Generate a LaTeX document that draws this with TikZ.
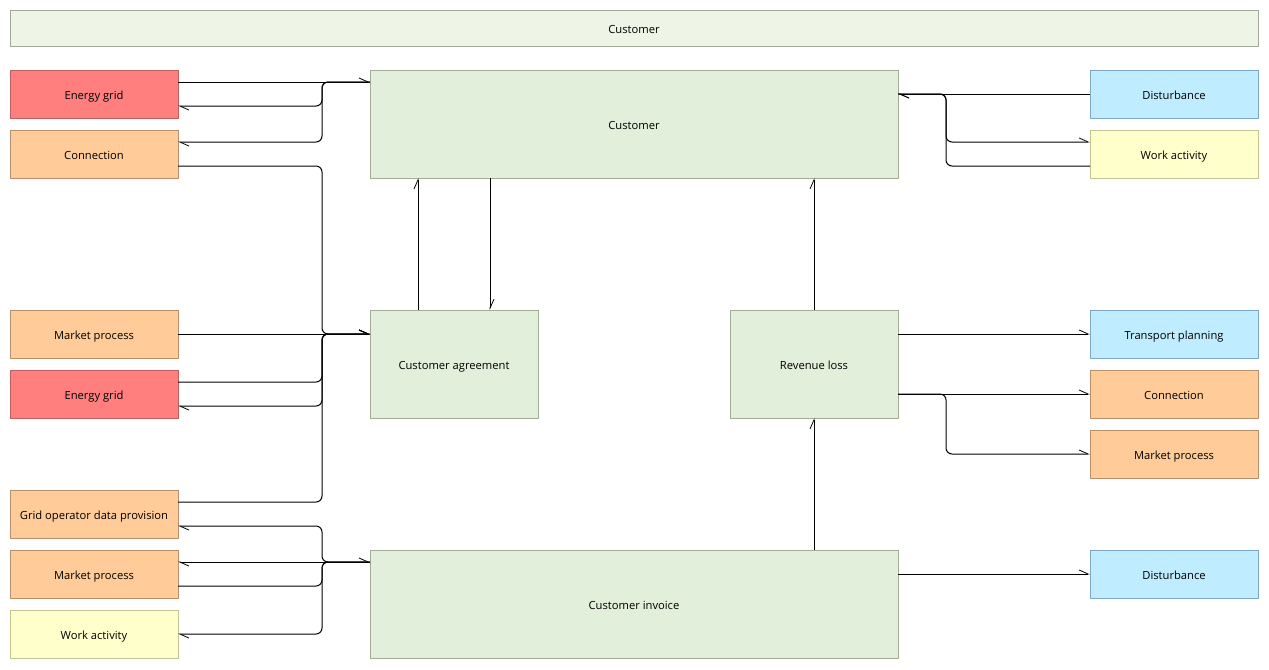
\documentclass[tikz,border=0pt]{standalone}
\usepackage{fontspec}
\setmainfont{Open Sans}
\usetikzlibrary{arrows.meta}

\definecolor{topfill}{HTML}{EEF5E6}
\definecolor{topline}{HTML}{A0A898}
\definecolor{procfill}{HTML}{E2EFDA}
\definecolor{procline}{HTML}{A2AE96}
\definecolor{redfill}{HTML}{FF7F7F}
\definecolor{redline}{HTML}{C0605E}
\definecolor{orgfill}{HTML}{FFCC99}
\definecolor{orgline}{HTML}{B8906C}
\definecolor{bluefill}{HTML}{BFEDFF}
\definecolor{blueline}{HTML}{7FA8C6}
\definecolor{yelfill}{HTML}{FFFFCC}
\definecolor{yelline}{HTML}{C4C490}

\tikzset{
  box/.style={draw, line width=0.75pt, inner sep=0pt, outer sep=0pt,
    minimum width=126pt, minimum height=36pt, text height=8.5pt, text depth=0pt,
    font=\fontsize{8.4}{10}\selectfont},
  proc/.style={box, fill=procfill, draw=procline, minimum height=81pt},
  wide/.style={minimum width=396pt},
  redbox/.style={box, fill=redfill, draw=redline},
  orgbox/.style={box, fill=orgfill, draw=orgline},
  bluebox/.style={box, fill=bluefill, draw=blueline},
  yelbox/.style={box, fill=yelfill, draw=yelline},
  conn/.style={line width=0.75pt, rounded corners=4.5pt,
    -{Straight Barb[harpoon, length=6.75pt, width=6pt, line width=0.6pt]}},
}

\begin{document}
\begin{tikzpicture}[x=0.75pt, y=-0.75pt]
  \useasboundingbox (0,0) rectangle (1269,669);

  \node[box, fill=topfill, draw=topline, minimum width=936pt, minimum height=27pt] (head) at (634,28) {Customer};

  % left column
  \node[redbox] (eg1) at (94,94) {Energy grid};
  \node[orgbox] (con1) at (94,154) {Connection};
  \node[orgbox] (mp1) at (94,334) {Market process};
  \node[redbox] (eg2) at (94,394) {Energy grid};
  \node[orgbox] (godp) at (94,514) {Grid operator data provision};
  \node[orgbox] (mp2) at (94,574) {Market process};
  \node[yelbox] (wa1) at (94,634) {Work activity};

  % middle
  \node[proc, wide] (cust) at (634,124) {Customer};
  \node[proc] (agree) at (454,364) {Customer agreement};
  \node[proc] (loss) at (814,364) {Revenue loss};
  \node[proc, wide] (inv) at (634,604) {Customer invoice};

  % right column
  \node[bluebox] (dist1) at (1174,94) {Disturbance};
  \node[yelbox] (wa2) at (1174,154) {Work activity};
  \node[bluebox] (tp) at (1174,334) {Transport planning};
  \node[orgbox] (con2) at (1174,394) {Connection};
  \node[orgbox] (mp3) at (1174,454) {Market process};
  \node[bluebox] (dist2) at (1174,574) {Disturbance};

  \coordinate (lbus) at (322,0);
  \coordinate (rbus) at (946,0);

  % top left group
  \draw[conn] ([yshift=9pt]eg1.east) -- ([yshift=31.5pt]cust.west);
  \draw[conn] ([yshift=31.5pt]cust.west) -- ([yshift=31.5pt]lbus |- cust.west)
    -- ([yshift=-9pt]lbus |- eg1.east) -- ([yshift=-9pt]eg1.east);
  \draw[conn] ([yshift=31.5pt]cust.west) -- ([yshift=31.5pt]lbus |- cust.west)
    -- ([yshift=9pt]lbus |- con1.east) -- ([yshift=9pt]con1.east);

  % customer agreement group
  \draw[conn] (mp1.east) -- ([yshift=22.5pt]agree.west);
  \draw[conn] ([yshift=-9pt]con1.east) -- ([yshift=-9pt]lbus |- con1.east)
    -- ([yshift=22.5pt]lbus |- agree.west) -- ([yshift=22.5pt]agree.west);
  \draw[conn] ([yshift=9pt]eg2.east) -- ([yshift=9pt]lbus |- eg2.east)
    -- ([yshift=22.5pt]lbus |- agree.west) -- ([yshift=22.5pt]agree.west);
  \draw[conn] ([yshift=22.5pt]agree.west) -- ([yshift=22.5pt]lbus |- agree.west)
    -- ([yshift=-9pt]lbus |- eg2.east) -- ([yshift=-9pt]eg2.east);
  \draw[conn] ([yshift=9pt]godp.east) -- ([yshift=9pt]lbus |- godp.east)
    -- ([yshift=22.5pt]lbus |- agree.west) -- ([yshift=22.5pt]agree.west);

  % customer invoice group
  \draw[conn] ([yshift=31.5pt]inv.west) -- ([yshift=31.5pt]lbus |- inv.west)
    -- ([yshift=-9pt]lbus |- godp.east) -- ([yshift=-9pt]godp.east);
  \draw[conn] ([yshift=31.5pt]inv.west) -- ([yshift=9pt]mp2.east);
  \draw[conn] ([yshift=-9pt]mp2.east) -- ([yshift=-9pt]lbus |- mp2.east)
    -- ([yshift=31.5pt]lbus |- inv.west) -- ([yshift=31.5pt]inv.west);
  \draw[conn] ([yshift=31.5pt]inv.west) -- ([yshift=31.5pt]lbus |- inv.west)
    -- (lbus |- wa1.east) -- (wa1.east);

  % vertical links
  \draw[conn] ([xshift=-27pt]agree.north) -- ([xshift=-162pt]cust.south);
  \draw[conn] ([xshift=-108pt]cust.south) -- ([xshift=27pt]agree.north);
  \draw[conn] (loss.north) -- ([xshift=135pt]cust.south);
  \draw[conn] ([xshift=135pt]inv.north) -- (loss.south);

  % right side
  \draw[conn] (dist1.west) -- ([yshift=22.5pt]cust.east);
  \draw[conn] ([yshift=22.5pt]cust.east) -- ([yshift=22.5pt]rbus |- cust.east)
    -- ([yshift=9pt]rbus |- wa2.east) -- ([yshift=9pt]wa2.west);
  \draw[conn] ([yshift=-9pt]wa2.west) -- ([yshift=-9pt]rbus |- wa2.west)
    -- ([yshift=22.5pt]rbus |- cust.east) -- ([yshift=22.5pt]cust.east);
  \draw[conn] ([yshift=22.5pt]loss.east) -- (tp.west);
  \draw[conn] ([yshift=-22.5pt]loss.east) -- (con2.west);
  \draw[conn] ([yshift=-22.5pt]loss.east) -- ([yshift=-22.5pt]rbus |- loss.east)
    -- (rbus |- mp3.west) -- (mp3.west);
  \draw[conn] ([yshift=22.5pt]inv.east) -- (dist2.west);
\end{tikzpicture}
\end{document}
